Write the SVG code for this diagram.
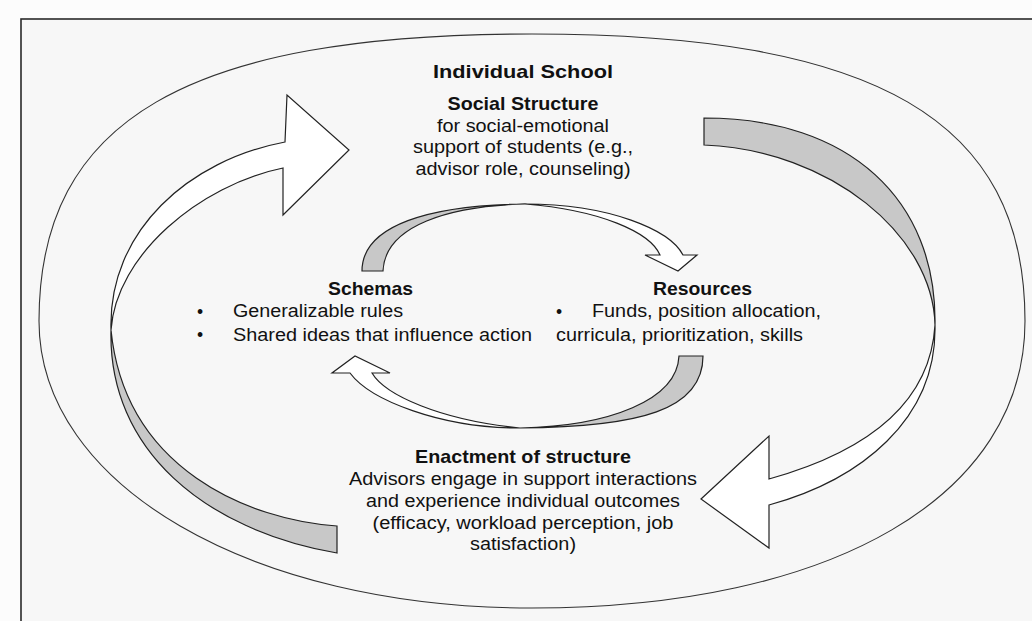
<svg xmlns="http://www.w3.org/2000/svg" width="1032" height="621" viewBox="0 0 1032 621">
  <style>
    .frame { fill: #f7f7f7; stroke: #2a2a2a; stroke-width: 1.6; }
    .loop { fill: none; stroke: #333; stroke-width: 1.1; }
    .face { fill: #ffffff; stroke: #222; stroke-width: 1.2; stroke-linejoin: miter; }
    .back { fill: #c8c8c8; stroke: #222; stroke-width: 1.2; stroke-linejoin: miter; }
    text { font-family: "Liberation Sans", Arial, sans-serif; fill: #111; }
    .title { font-size: 19px; font-weight: bold; }
    .head { font-size: 18.5px; font-weight: bold; }
    .body { font-size: 17.5px; }
    .mid { text-anchor: middle; }
  </style>

  <!-- page background and frame (frame runs off the right and bottom edges) -->
  <rect x="0" y="0" width="1032" height="621" fill="#fcfcfc"/>
  <rect class="frame" x="21" y="19" width="1030" height="620"/>

  <!-- school boundary -->
  <g id="school-boundary">
    <path class="loop" d="M 39,321 C 39,120 187,34 532,34 C 877,34 1025,120 1025,321 C 1025,496 833,608 532,608 C 251,608 39,485 39,321 Z"/>
  </g>

  <g id="connectors">
    <!-- outer loop, left: enactment back up to social structure -->
    <g id="arrow-outer-left">
      <path class="back" d="M 111,330 C 108,450 205,530 337,553 L 337,526 C 250,520 125,470 111,330 Z"/>
      <path class="face" d="M 111,330 C 108,230 190,160 285,142 L 287,95 L 349,150 L 283,215 L 283,168 C 200,185 116,255 111,330 Z"/>
    </g>
    <!-- outer loop, right: social structure down to enactment -->
    <g id="arrow-outer-right">
      <path class="back" d="M 704,118 C 850,118 937,200 935,325 C 933,235 830,150 704,145 Z"/>
      <path class="face" d="M 935,325 C 937,420 860,480 769,505 L 769,548 L 701,499 L 769,436 L 769,479 C 855,455 930,410 935,325 Z"/>
    </g>
    <!-- inner loop, top: schemas to resources -->
    <g id="arrow-inner-top">
      <path class="back" d="M 362,271 C 362,225 430,205 525,204 C 450,206 385,225 383,271 Z"/>
      <path class="face" d="M 525,204 C 610,204 670,230 683,255 L 697,255 L 678,271 L 645,255 L 660,255 C 650,232 600,210 525,204 Z"/>
    </g>
    <!-- inner loop, bottom: resources back to schemas -->
    <g id="arrow-inner-bottom">
      <path class="back" d="M 703,356 C 703,410 640,427 520,428 C 610,426 677,400 679,356 Z"/>
      <path class="face" d="M 520,428 C 440,428 370,400 350,373 L 332,373 L 355,356 L 390,373 L 372,373 C 385,395 440,420 520,428 Z"/>
    </g>
  </g>

  <g id="title">
    <text class="title mid" x="523" y="78" textLength="180" lengthAdjust="spacingAndGlyphs">Individual School</text>
  </g>

  <g id="social-structure">
    <text class="head mid" x="523" y="109.5" textLength="151" lengthAdjust="spacingAndGlyphs">Social Structure</text>
    <text class="body mid" x="523" y="131.5" textLength="172" lengthAdjust="spacingAndGlyphs">for social-emotional</text>
    <text class="body mid" x="523" y="153" textLength="220" lengthAdjust="spacingAndGlyphs">support of students (e.g.,</text>
    <text class="body mid" x="523" y="174.5" textLength="215" lengthAdjust="spacingAndGlyphs">advisor role, counseling)</text>
  </g>

  <g id="schemas">
    <text class="head" x="328" y="295" textLength="85" lengthAdjust="spacingAndGlyphs">Schemas</text>
    <text class="body" x="197" y="318">•</text>
    <text class="body" x="233" y="317" textLength="170" lengthAdjust="spacingAndGlyphs">Generalizable rules</text>
    <text class="body" x="197" y="341">•</text>
    <text class="body" x="233" y="341" textLength="299" lengthAdjust="spacingAndGlyphs">Shared ideas that influence action</text>
  </g>

  <g id="resources">
    <text class="head" x="653" y="295" textLength="99" lengthAdjust="spacingAndGlyphs">Resources</text>
    <text class="body" x="556" y="318">•</text>
    <text class="body" x="592" y="317" textLength="229" lengthAdjust="spacingAndGlyphs">Funds, position allocation,</text>
    <text class="body" x="556" y="341" textLength="247" lengthAdjust="spacingAndGlyphs">curricula, prioritization, skills</text>
  </g>

  <g id="enactment">
    <text class="head mid" x="523" y="463" textLength="216" lengthAdjust="spacingAndGlyphs">Enactment of structure</text>
    <text class="body mid" x="523" y="485" textLength="348" lengthAdjust="spacingAndGlyphs">Advisors engage in support interactions</text>
    <text class="body mid" x="523" y="507" textLength="314" lengthAdjust="spacingAndGlyphs">and experience individual outcomes</text>
    <text class="body mid" x="523" y="529" textLength="301" lengthAdjust="spacingAndGlyphs">(efficacy, workload perception, job</text>
    <text class="body mid" x="523" y="550" textLength="106" lengthAdjust="spacingAndGlyphs">satisfaction)</text>
  </g>
</svg>
